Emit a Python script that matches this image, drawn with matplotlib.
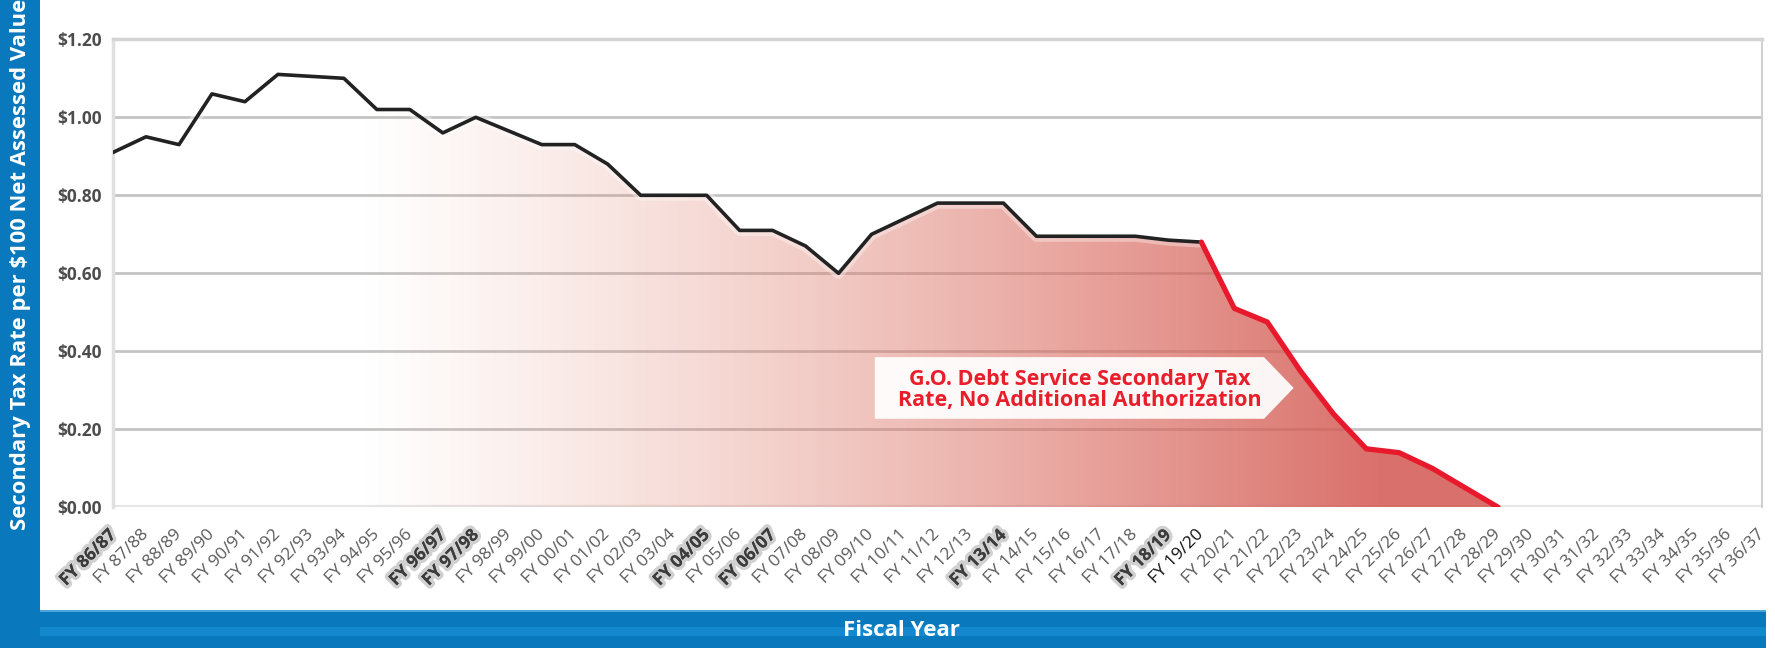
import numpy as np
import matplotlib
matplotlib.use("Agg")
import matplotlib.pyplot as plt
from matplotlib import patheffects as pe
from matplotlib.patches import Rectangle, Polygon

plt.rcParams['font.family'] = ['Open Sans', 'DejaVu Sans']

# ---------------- data ----------------
fiscal_years = [
    "FY 86/87", "FY 87/88", "FY 88/89", "FY 89/90", "FY 90/91", "FY 91/92", "FY 92/93",
    "FY 93/94", "FY 94/95", "FY 95/96", "FY 96/97", "FY 97/98", "FY 98/99", "FY 99/00",
    "FY 00/01", "FY 01/02", "FY 02/03", "FY 03/04", "FY 04/05", "FY 05/06", "FY 06/07",
    "FY 07/08", "FY 08/09", "FY 09/10", "FY 10/11", "FY 11/12", "FY 12/13", "FY 13/14",
    "FY 14/15", "FY 15/16", "FY 16/17", "FY 17/18", "FY 18/19", "FY 19/20", "FY 20/21",
    "FY 21/22", "FY 22/23", "FY 23/24", "FY 24/25", "FY 25/26", "FY 26/27", "FY 27/28",
    "FY 28/29", "FY 29/30", "FY 30/31", "FY 31/32", "FY 32/33", "FY 33/34", "FY 34/35",
    "FY 35/36", "FY 36/37",
]
# actual secondary tax rate, FY 86/87 .. FY 19/20
historical_rate = [
    0.91, 0.95, 0.93, 1.06, 1.04, 1.11, 1.105, 1.10, 1.02, 1.02,
    0.96, 1.00, 0.965, 0.93, 0.93, 0.88, 0.80, 0.80, 0.80, 0.71,
    0.71, 0.67, 0.60, 0.70, 0.74, 0.78, 0.78, 0.78, 0.695, 0.695,
    0.695, 0.695, 0.685, 0.68,
]
# projected rate, FY 19/20 .. FY 28/29 (no additional authorization)
projected_rate = [0.68, 0.51, 0.475, 0.35, 0.24, 0.15, 0.14, 0.10, 0.05, 0.0]

emphasized_years = ["FY 86/87", "FY 96/97", "FY 97/98", "FY 04/05", "FY 06/07",
                    "FY 13/14", "FY 18/19"]
current_year = "FY 19/20"
y_ticks = [0.0, 0.2, 0.4, 0.6, 0.8, 1.0, 1.2]
y_tick_labels = ["$0.00", "$0.20", "$0.40", "$0.60", "$0.80", "$1.00", "$1.20"]
callout_text = "G.O. Debt Service Secondary Tax\nRate, No Additional Authorization"

# ---------------- figure ----------------
W, H = 1775, 648
fig = plt.figure(figsize=(W / 100, H / 100), dpi=100)
fig.patch.set_facecolor('white')

def fy(py):
    return 1 - py / H

BLUE = '#0a78bc'
fig.patches.append(Rectangle((0, 0), 40 / W, 1, transform=fig.transFigure,
                             facecolor=BLUE, edgecolor='none', zorder=0))
fig.patches.append(Rectangle((40 / W, 0), (1766 - 40) / W, 38 / H, transform=fig.transFigure,
                             facecolor=BLUE, edgecolor='none', zorder=0))
fig.patches.append(Rectangle((40 / W, 36 / H), (1766 - 40) / W, 2 / H, transform=fig.transFigure,
                             facecolor='#4aa6dc', edgecolor='none', zorder=0))
fig.patches.append(Rectangle((40 / W, 12 / H), (1766 - 40) / W, 9 / H, transform=fig.transFigure,
                             facecolor='#1388cc', edgecolor='none', zorder=0))

ax = fig.add_axes([113 / W, fy(507.3), (1762 - 113) / W, (507.3 - 39.3) / H])
ax.set_facecolor('none')

x = np.arange(len(fiscal_years))
n_hist = len(historical_rate)
hist_x = x[:n_hist]
proj_x = x[n_hist - 1:n_hist - 1 + len(projected_rate)]
all_x = np.concatenate([hist_x, proj_x[1:]])
all_y = np.array(historical_rate + projected_rate[1:])

ax.set_xlim(0, len(fiscal_years) - 1)
ax.set_ylim(0, 1.2)

# gridlines
for yv in y_ticks[1:]:
    ax.axhline(yv, color='#c4c4c4', lw=2.0, zorder=0.5)
ax.axhline(0, color='#e6e6e6', lw=3, zorder=0.5)

# gradient fill under the line
fill = ax.fill_between(all_x, all_y, 0, facecolor='none', edgecolor='none')
xs = np.linspace(0, len(fiscal_years) - 1, 600)
t = np.clip((xs - 7.5) / 31.0, 0, 1)
alpha = 0.87 * t ** 1.05
c0 = np.array([228, 135, 112]) / 255.0
c1 = np.array([212, 90, 84]) / 255.0
cols = c0[None, :] * (1 - t[:, None]) + c1[None, :] * t[:, None]
img = np.zeros((2, len(xs), 4))
img[:, :, :3] = cols[None, :, :]
img[:, :, 3] = alpha[None, :]
im = ax.imshow(img, extent=(0, len(fiscal_years) - 1, 0, 1.2), aspect='auto',
               origin='lower', zorder=1, interpolation='bilinear')
im.set_clip_path(fill.get_paths()[0], transform=ax.transData)

# lines
ax.plot(hist_x, historical_rate, color='white', lw=8, alpha=0.35, zorder=2,
        solid_joinstyle='round')
ax.plot(hist_x, historical_rate, color='#222222', lw=2.6, zorder=3, solid_joinstyle='round')
ax.plot(proj_x, projected_rate, color='#e8192c', lw=3.8, zorder=3, solid_joinstyle='round',
        solid_capstyle='round')

# callout
box = Polygon([(23.1, 0.385), (34.9, 0.385), (35.8, 0.306), (34.9, 0.227), (23.1, 0.227)],
              closed=True, facecolor='white', edgecolor='none', alpha=0.93, zorder=4)
ax.add_patch(box)
ax.text(29.3, 0.300, callout_text, ha='center', va='center', color='#e81e2a',
        fontsize=15.5, fontweight='bold', linespacing=1.0, zorder=5)

# spines
ax.spines['bottom'].set_visible(False)
ax.spines['top'].set_color('#d4d4d4')
ax.spines['top'].set_linewidth(2.5)
ax.spines['left'].set_color('#e0e0e0')
ax.spines['left'].set_linewidth(2.5)
ax.spines['right'].set_color('#d0d0d0')
ax.spines['right'].set_linewidth(1.5)

# ticks
ax.set_yticks(y_ticks)
ax.set_yticklabels(y_tick_labels, fontsize=12.5, fontweight='bold', color='#4d4d4d')
ax.tick_params(axis='y', length=0, pad=8)
ax.set_xticks(x)
ax.set_xticklabels(fiscal_years, rotation=45, ha='right', va='center',
                   rotation_mode='anchor', fontsize=12.5, color='#5a5a5a')
ax.tick_params(axis='x', length=0, pad=18)
for lab in ax.get_xticklabels():
    txt = lab.get_text()
    if txt in emphasized_years:
        lab.set_fontweight('bold')
        lab.set_color('#3c3c3c')
        lab.set_path_effects([pe.withStroke(linewidth=5, foreground=(0.4, 0.4, 0.4, 0.3))])
    elif txt == current_year:
        lab.set_color('#111111')

# axis titles on the blue bands
fig.text(21 / W, fy(530), 'Secondary Tax Rate per $100 Net Assessed Value', rotation=90,
         color='white', fontweight='bold', fontsize=15.8, ha='center', va='bottom')
fig.text(901 / W, fy(630), 'Fiscal Year', color='white', fontweight='bold',
         fontsize=16, ha='center', va='center')

fig.savefig('out.png', dpi=100)
